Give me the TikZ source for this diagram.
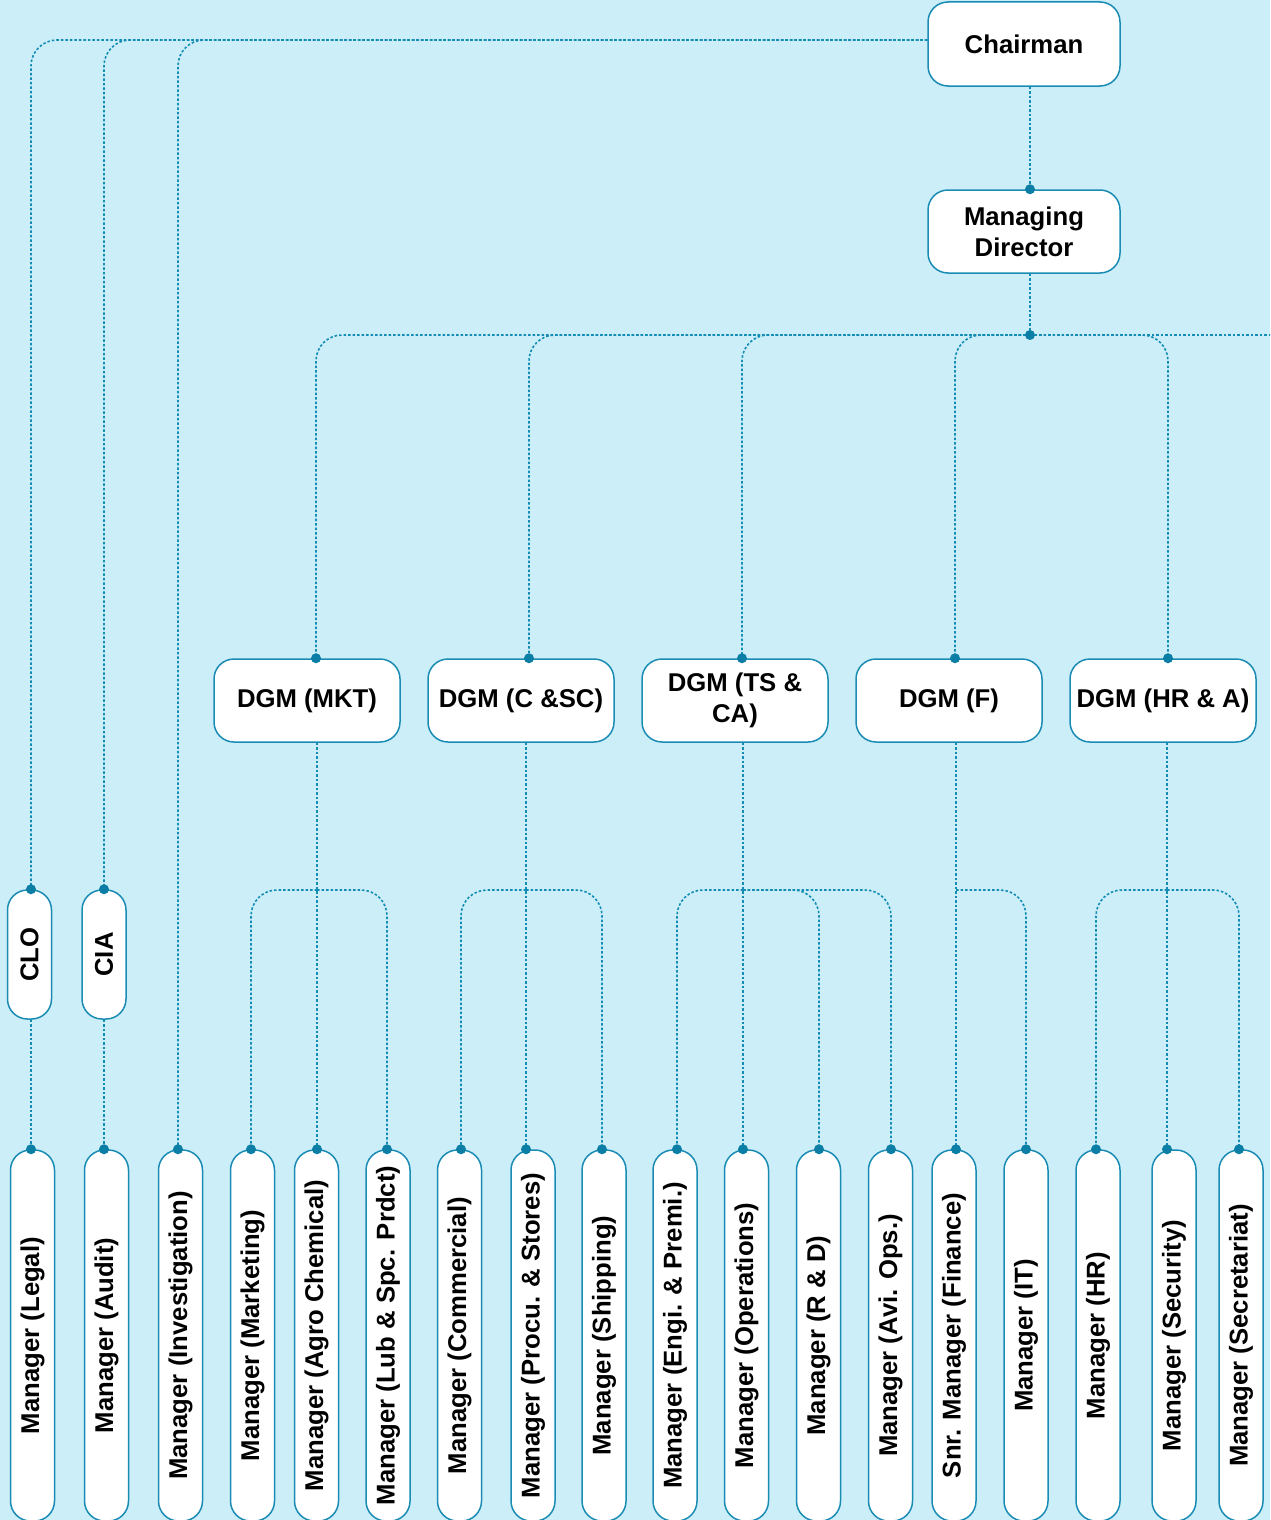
\documentclass[tikz,border=0pt]{standalone}
\usepackage{fontspec}
\setmainfont{Liberation Sans}
\usepackage{graphicx}
\definecolor{bgc}{HTML}{CCEEF8}
\definecolor{edgec}{HTML}{1A8CB4}
\definecolor{dotc}{HTML}{0B7EA6}
\definecolor{linec}{HTML}{138DB5}
\tikzset{
 box/.style={draw=edgec, line width=1.5pt, fill=white, rounded corners=20pt, inner sep=0pt,
   font=\fontsize{25.7}{31}\selectfont\bfseries, align=center},
 hbox/.style={box, minimum width=192pt, minimum height=84pt},
 dbox/.style={box, minimum width=186pt, minimum height=83pt},
 vbox/.style={box, minimum width=44pt, minimum height=129pt},
 mbox/.style={box, minimum width=44pt, minimum height=371pt},
 conn/.style={draw=linec, line width=1.6pt, dash pattern=on 2.5pt off 2pt},
 rc/.style={rounded corners=26pt},
}
\newcommand{\vt}[1]{\rotatebox{90}{#1}}
\newcommand{\jd}[1]{\fill[dotc] #1 circle[radius=5pt];}
\begin{document}
\begin{tikzpicture}[x=1pt,y=-1pt]
\useasboundingbox (0,0) rectangle (1270,1520);
\fill[bgc] (0,0) rectangle (1270,1520);
\clip (0,0) rectangle (1270,1520);

% top nodes
\node[hbox] (ch) at (1024,44) {Chairman};
\node[hbox, minimum height=83pt] (md) at (1024,231.5) {Managing\\Director};

% DGM nodes
\node[dbox] (d1) at (307,700.5) {DGM (MKT)};
\node[dbox] (d2) at (521,700.5) {DGM (C \&SC)};
\node[dbox] (d3) at (735,700.5) {DGM (TS \&\\CA)};
\node[dbox] (d4) at (949,700.5) {DGM (F)};
\node[dbox] (d5) at (1163,700.5) {DGM (HR \& A)};

% CLO / CIA
\node[vbox] (clo) at (29.5,954.5) {\vt{CLO}};
\node[vbox] (cia) at (104,954.5) {\vt{CIA}};

% managers
\node[mbox] (m1) at (32.5,1335.5) {\vt{Manager (Legal)}};
\node[mbox] (m2) at (106.5,1335.5) {\vt{Manager (Audit)}};
\node[mbox] (m3) at (180.5,1335.5) {\vt{Manager (Investigation)}};
\node[mbox] (m4) at (252.5,1335.5) {\vt{Manager (Marketing)}};
\node[mbox] (m5) at (316.5,1335.5) {\vt{Manager (Agro Chemical)}};
\node[mbox] (m6) at (388,1335.5) {\vt{Manager (Lub \& Spc. Prdct)}};
\node[mbox] (m7) at (459.5,1335.5) {\vt{Manager (Commercial)}};
\node[mbox] (m8) at (533,1335.5) {\vt{Manager (Procu. \& Stores)}};
\node[mbox] (m9) at (604,1335.5) {\vt{Manager (Shipping)}};
\node[mbox] (m10) at (675,1335.5) {\vt{Manager (Engi. \& Premi.)}};
\node[mbox] (m11) at (746.5,1335.5) {\vt{Manager (Operations)}};
\node[mbox] (m12) at (818.5,1335.5) {\vt{Manager (R \& D)}};
\node[mbox] (m13) at (890.5,1335.5) {\vt{Manager (Avi. Ops.)}};
\node[mbox] (m14) at (954,1335.5) {\vt{Snr. Manager (Finance)}};
\node[mbox] (m15) at (1026,1335.5) {\vt{Manager (IT)}};
\node[mbox] (m16) at (1098,1335.5) {\vt{Manager (HR)}};
\node[mbox] (m17) at (1174,1335.5) {\vt{Manager (Security)}};
\node[mbox] (m18) at (1241,1335.5) {\vt{Manager (Secretariat)}};

% chairman -> MD
\draw[conn] ([xshift=6pt]ch.south) -- ([xshift=6pt]md.north);
% MD -> bus
\coordinate (mdj) at (1030,335);
\coordinate (busR) at (1275,335);
\draw[conn] ([xshift=6pt]md.south) -- (mdj);
\draw[conn] (mdj) -- (busR);
\draw[conn,rc] (mdj) -| ([xshift=9pt]d1.north);
\draw[conn,rc] (mdj) -| ([xshift=8pt]d2.north);
\draw[conn,rc] (mdj) -| ([xshift=7pt]d3.north);
\draw[conn,rc] (mdj) -| ([xshift=6pt]d4.north);
\draw[conn,rc] (mdj) -| ([xshift=5pt]d5.north);

% chairman -> left side
\draw[conn,rc] ([yshift=4pt]ch.west) -| ([xshift=1.5pt]clo.north);
\draw[conn,rc] ([yshift=4pt]ch.west) -| (cia.north);
\draw[conn,rc] ([yshift=4pt]ch.west) -| ([xshift=-2.5pt]m3.north);
\draw[conn] ([xshift=1.5pt]clo.south) -- ([xshift=-1.5pt]m1.north);
\draw[conn] (cia.south) -- ([xshift=-2.5pt]m2.north);

% DGM (MKT)
\coordinate (j1) at (317,890);
\draw[conn] ([xshift=10pt]d1.south) -- ([xshift=0.5pt]m5.north);
\draw[conn,rc] (j1) -| ([xshift=-1.5pt]m4.north);
\draw[conn,rc] (j1) -| ([xshift=-1pt]m6.north);
% DGM (C &SC)
\coordinate (j2) at (526,890);
\draw[conn] ([xshift=5pt]d2.south) -- ([xshift=-7pt]m8.north);
\draw[conn,rc] (j2) -| ([xshift=1.5pt]m7.north);
\draw[conn,rc] (j2) -| ([xshift=-2pt]m9.north);
% DGM (TS & CA)
\coordinate (j3) at (743,890);
\draw[conn] ([xshift=8pt]d3.south) -- ([xshift=-3.5pt]m11.north);
\draw[conn,rc] (j3) -| ([xshift=2pt]m10.north);
\draw[conn,rc] (j3) -| ([xshift=0.5pt]m12.north);
\draw[conn,rc] (j3) -| ([xshift=0.5pt]m13.north);
% DGM (F)
\coordinate (j4) at (956,890);
\draw[conn] ([xshift=7pt]d4.south) -- ([xshift=2pt]m14.north);
\draw[conn,rc] (j4) -| (m15.north);
% DGM (HR & A)
\coordinate (j5) at (1167,890);
\draw[conn] ([xshift=4pt]d5.south) -- ([xshift=-7pt]m17.north);
\draw[conn,rc] (j5) -| ([xshift=-2pt]m16.north);
\draw[conn,rc] (j5) -| ([xshift=-2pt]m18.north);

% dots
\jd{([xshift=6pt]md.north)}
\jd{(mdj)}
\jd{([xshift=9pt]d1.north)}
\jd{([xshift=8pt]d2.north)}
\jd{([xshift=7pt]d3.north)}
\jd{([xshift=6pt]d4.north)}
\jd{([xshift=5pt]d5.north)}
\jd{([xshift=1.5pt]clo.north)}
\jd{(cia.north)}
\jd{([xshift=-1.5pt]m1.north)}
\jd{([xshift=-2.5pt]m2.north)}
\jd{([xshift=-2.5pt]m3.north)}
\jd{([xshift=-1.5pt]m4.north)}
\jd{([xshift=0.5pt]m5.north)}
\jd{([xshift=-1pt]m6.north)}
\jd{([xshift=1.5pt]m7.north)}
\jd{([xshift=-7pt]m8.north)}
\jd{([xshift=-2pt]m9.north)}
\jd{([xshift=2pt]m10.north)}
\jd{([xshift=-3.5pt]m11.north)}
\jd{([xshift=0.5pt]m12.north)}
\jd{([xshift=0.5pt]m13.north)}
\jd{([xshift=2pt]m14.north)}
\jd{(m15.north)}
\jd{([xshift=-2pt]m16.north)}
\jd{([xshift=-7pt]m17.north)}
\jd{([xshift=-2pt]m18.north)}
\end{tikzpicture}
\end{document}
